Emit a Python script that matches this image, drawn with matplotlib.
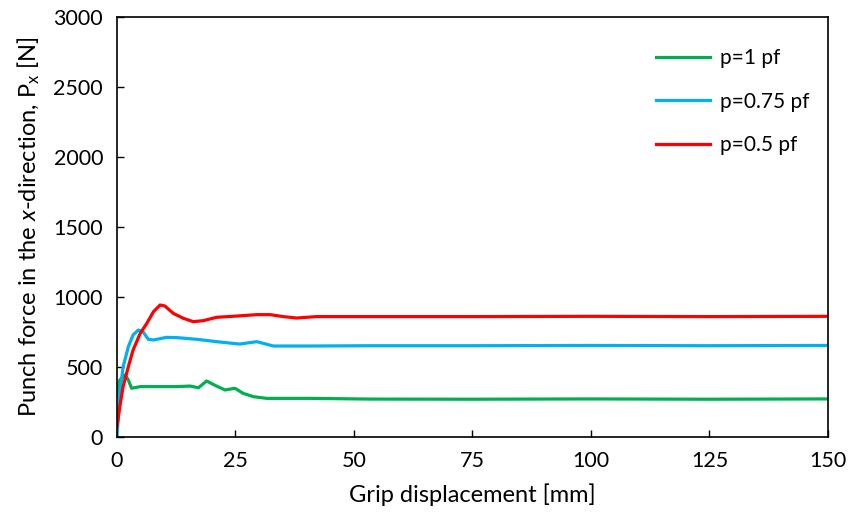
import matplotlib
matplotlib.use("Agg")
import matplotlib.pyplot as plt

plt.rcParams['font.family'] = ['Lato', 'DejaVu Sans']
plt.rcParams['mathtext.fontset'] = 'custom'
plt.rcParams['mathtext.rm'] = 'Lato'
plt.rcParams['mathtext.it'] = 'Lato:italic'

# Series data (grip displacement [mm], punch force [N])
x_p1 = [0, 0.6, 1.7, 2.4, 3.1, 4.9, 9.1, 12.6, 15.4, 17.2, 18.9, 21.0, 22.8, 24.9, 26.6,
        28.8, 31.6, 40.8, 53.3, 75, 100, 125, 150]
y_p1 = [300, 407, 443, 407, 348, 360, 360, 360, 364, 352, 400, 364, 336, 348, 312,
        288, 276, 276, 271, 270, 272, 270, 272]

x_p075 = [0, 0.6, 1.3, 2.4, 3.4, 4.5, 5.5, 6.6, 7.7, 10.5, 12.6, 16.8, 21.0, 25.9,
          29.5, 33.0, 40.8, 53.3, 75, 100, 125, 150]
y_p075 = [0, 312, 502, 645, 729, 764, 752, 698, 693, 712, 710, 698, 681, 664,
          681, 650, 650, 652, 652, 654, 652, 654]

x_p05 = [0, 0.6, 1.3, 2.4, 3.4, 4.9, 6.3, 7.7, 9.1, 10.1, 11.9, 14.0, 16.1, 18.2, 21.0,
         25.3, 29.5, 32.3, 35.1, 37.9, 42.1, 53.3, 75, 100, 125, 150]
y_p05 = [74, 216, 360, 502, 621, 740, 812, 895, 943, 936, 883, 848, 824, 831, 855,
         864, 874, 874, 860, 850, 860, 860, 860, 862, 860, 862]

labels = ['p=1 pf', 'p=0.75 pf', 'p=0.5 pf']
colors = ['#00b050', '#00b0f0', '#ff0000']

x_ticks = [0, 25, 50, 75, 100, 125, 150]
y_ticks = [0, 500, 1000, 1500, 2000, 2500, 3000]

fig = plt.figure(figsize=(8.5, 5.25), dpi=100)
ax = fig.add_axes([0.1376, 0.1676, 0.8365, 0.80])

for xs, ys, lab, c in zip([x_p1, x_p075, x_p05], [y_p1, y_p075, y_p05], labels, colors):
    ax.plot(xs, ys, color=c, lw=2.3, label=lab)

ax.set_xlim(0, 150)
ax.set_ylim(0, 3000)
ax.set_xticks(x_ticks)
ax.set_yticks(y_ticks)
ax.tick_params(direction='in', labelsize=15.5, length=5, width=1, pad=10)
for s in ax.spines.values():
    s.set_linewidth(1.2)

ax.set_xlabel('Grip displacement [mm]', fontsize=17, labelpad=9)
ax.set_ylabel(r'Punch force in the $\it{x}$-direction, P$_\mathrm{x}$ [N]', fontsize=17, labelpad=8)

ax.legend(loc='upper right', bbox_to_anchor=(1.0, 0.97), frameon=False, fontsize=15,
          handlelength=2.6, labelspacing=1.12, handletextpad=0.45)

fig.savefig('out.png', dpi=100)
